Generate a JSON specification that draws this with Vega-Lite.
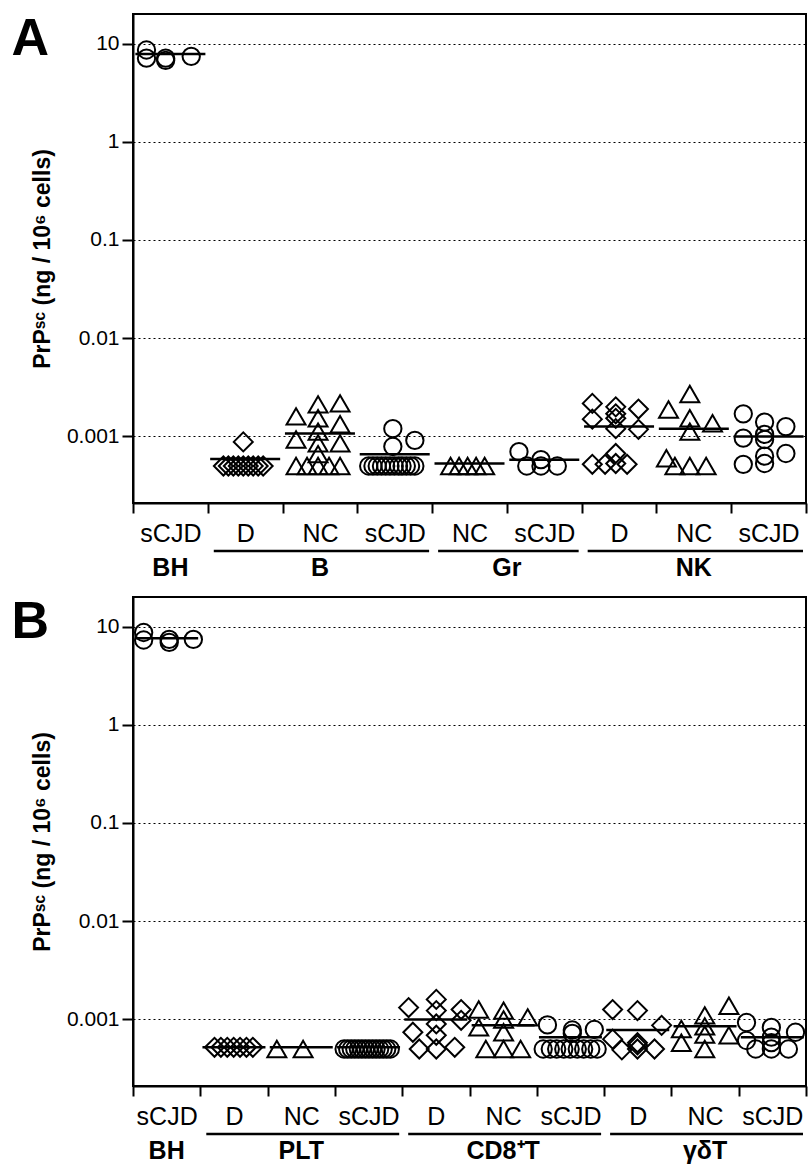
{
  "$schema": "https://vega.github.io/schema/vega-lite/v6.json",
  "padding": {"left": 10, "top": 12, "right": 0, "bottom": 0},
  "autosize": {"type": "pad"},
  "background": "white",
  "spacing": 0,
  "config": {
    "font": "Liberation Sans",
    "axis": {"labelColor": "black", "titleColor": "black", "domainColor": "black", "tickColor": "black"}
  },
  "resolve": {"scale": {"x": "independent", "y": "independent"}},
  "datasets": {
    "ptsA": [
      {"c": "BH|sCJD", "t": "sCJD", "v": 8.6, "o": -0.31},
      {"c": "BH|sCJD", "t": "sCJD", "v": 7.1, "o": -0.31},
      {"c": "BH|sCJD", "t": "sCJD", "v": 7.1, "o": -0.04},
      {"c": "BH|sCJD", "t": "sCJD", "v": 6.75, "o": -0.04},
      {"c": "BH|sCJD", "t": "sCJD", "v": 7.4, "o": 0.32},
      {"c": "B|D", "t": "D", "v": 0.0005, "o": -0.28},
      {"c": "B|D", "t": "D", "v": 0.0005, "o": -0.21},
      {"c": "B|D", "t": "D", "v": 0.0005, "o": -0.14},
      {"c": "B|D", "t": "D", "v": 0.0005, "o": -0.07},
      {"c": "B|D", "t": "D", "v": 0.0005, "o": 0},
      {"c": "B|D", "t": "D", "v": 0.0005, "o": 0.07},
      {"c": "B|D", "t": "D", "v": 0.0005, "o": 0.14},
      {"c": "B|D", "t": "D", "v": 0.0005, "o": 0.21},
      {"c": "B|D", "t": "D", "v": 0.0005, "o": 0.28},
      {"c": "B|D", "t": "D", "v": 0.00088, "o": 0},
      {"c": "B|NC", "t": "NC", "v": 0.0016, "o": -0.31},
      {"c": "B|NC", "t": "NC", "v": 0.00212, "o": 0},
      {"c": "B|NC", "t": "NC", "v": 0.00217, "o": 0.31},
      {"c": "B|NC", "t": "NC", "v": 0.00153, "o": 0},
      {"c": "B|NC", "t": "NC", "v": 0.00093, "o": -0.31},
      {"c": "B|NC", "t": "NC", "v": 0.00112, "o": 0},
      {"c": "B|NC", "t": "NC", "v": 0.00133, "o": 0.31},
      {"c": "B|NC", "t": "NC", "v": 0.00085, "o": 0},
      {"c": "B|NC", "t": "NC", "v": 0.00085, "o": 0.31},
      {"c": "B|NC", "t": "NC", "v": 0.00066, "o": 0},
      {"c": "B|NC", "t": "NC", "v": 0.0005, "o": -0.31},
      {"c": "B|NC", "t": "NC", "v": 0.0005, "o": -0.155},
      {"c": "B|NC", "t": "NC", "v": 0.0005, "o": 0},
      {"c": "B|NC", "t": "NC", "v": 0.0005, "o": 0.155},
      {"c": "B|NC", "t": "NC", "v": 0.0005, "o": 0.31},
      {"c": "B|sCJD", "t": "sCJD", "v": 0.0012, "o": 0},
      {"c": "B|sCJD", "t": "sCJD", "v": 0.00079, "o": 0},
      {"c": "B|sCJD", "t": "sCJD", "v": 0.00091, "o": 0.31},
      {"c": "B|sCJD", "t": "sCJD", "v": 0.0005, "o": -0.34},
      {"c": "B|sCJD", "t": "sCJD", "v": 0.0005, "o": -0.28},
      {"c": "B|sCJD", "t": "sCJD", "v": 0.0005, "o": -0.22},
      {"c": "B|sCJD", "t": "sCJD", "v": 0.0005, "o": -0.16},
      {"c": "B|sCJD", "t": "sCJD", "v": 0.0005, "o": -0.1},
      {"c": "B|sCJD", "t": "sCJD", "v": 0.0005, "o": -0.04},
      {"c": "B|sCJD", "t": "sCJD", "v": 0.0005, "o": 0.02},
      {"c": "B|sCJD", "t": "sCJD", "v": 0.0005, "o": 0.08},
      {"c": "B|sCJD", "t": "sCJD", "v": 0.0005, "o": 0.13},
      {"c": "B|sCJD", "t": "sCJD", "v": 0.0005, "o": 0.19},
      {"c": "B|sCJD", "t": "sCJD", "v": 0.0005, "o": 0.25},
      {"c": "B|sCJD", "t": "sCJD", "v": 0.0005, "o": 0.31},
      {"c": "Gr|NC", "t": "NC", "v": 0.0005, "o": -0.24},
      {"c": "Gr|NC", "t": "NC", "v": 0.0005, "o": -0.12},
      {"c": "Gr|NC", "t": "NC", "v": 0.0005, "o": 0},
      {"c": "Gr|NC", "t": "NC", "v": 0.0005, "o": 0.12},
      {"c": "Gr|NC", "t": "NC", "v": 0.0005, "o": 0.24},
      {"c": "Gr|sCJD", "t": "sCJD", "v": 0.0007, "o": -0.33},
      {"c": "Gr|sCJD", "t": "sCJD", "v": 0.0005, "o": -0.22},
      {"c": "Gr|sCJD", "t": "sCJD", "v": 0.00058, "o": -0.02},
      {"c": "Gr|sCJD", "t": "sCJD", "v": 0.0005, "o": -0.02},
      {"c": "Gr|sCJD", "t": "sCJD", "v": 0.0005, "o": 0.21},
      {"c": "NK|D", "t": "D", "v": 0.00217, "o": -0.35},
      {"c": "NK|D", "t": "D", "v": 0.0015, "o": -0.35},
      {"c": "NK|D", "t": "D", "v": 0.002, "o": -0.02},
      {"c": "NK|D", "t": "D", "v": 0.0017, "o": -0.02},
      {"c": "NK|D", "t": "D", "v": 0.00153, "o": -0.02},
      {"c": "NK|D", "t": "D", "v": 0.0012, "o": -0.02},
      {"c": "NK|D", "t": "D", "v": 0.0019, "o": 0.3},
      {"c": "NK|D", "t": "D", "v": 0.00118, "o": 0.3},
      {"c": "NK|D", "t": "D", "v": 0.00052, "o": -0.35},
      {"c": "NK|D", "t": "D", "v": 0.00052, "o": -0.17},
      {"c": "NK|D", "t": "D", "v": 0.00067, "o": -0.02},
      {"c": "NK|D", "t": "D", "v": 0.00053, "o": -0.02},
      {"c": "NK|D", "t": "D", "v": 0.00052, "o": 0.14},
      {"c": "NK|NC", "t": "NC", "v": 0.00188, "o": -0.33},
      {"c": "NK|NC", "t": "NC", "v": 0.0027, "o": -0.03},
      {"c": "NK|NC", "t": "NC", "v": 0.00153, "o": -0.03},
      {"c": "NK|NC", "t": "NC", "v": 0.00112, "o": -0.03},
      {"c": "NK|NC", "t": "NC", "v": 0.00136, "o": 0.29},
      {"c": "NK|NC", "t": "NC", "v": 0.0006, "o": -0.36},
      {"c": "NK|NC", "t": "NC", "v": 0.0005, "o": -0.24},
      {"c": "NK|NC", "t": "NC", "v": 0.0005, "o": -0.03},
      {"c": "NK|NC", "t": "NC", "v": 0.0005, "o": 0.2},
      {"c": "NK|sCJD", "t": "sCJD", "v": 0.0017, "o": -0.33},
      {"c": "NK|sCJD", "t": "sCJD", "v": 0.00096, "o": -0.33},
      {"c": "NK|sCJD", "t": "sCJD", "v": 0.00052, "o": -0.33},
      {"c": "NK|sCJD", "t": "sCJD", "v": 0.0014, "o": -0.03},
      {"c": "NK|sCJD", "t": "sCJD", "v": 0.00105, "o": -0.03},
      {"c": "NK|sCJD", "t": "sCJD", "v": 0.00093, "o": -0.03},
      {"c": "NK|sCJD", "t": "sCJD", "v": 0.00063, "o": -0.03},
      {"c": "NK|sCJD", "t": "sCJD", "v": 0.00053, "o": -0.03},
      {"c": "NK|sCJD", "t": "sCJD", "v": 0.00126, "o": 0.27},
      {"c": "NK|sCJD", "t": "sCJD", "v": 0.00067, "o": 0.27}
    ],
    "medA": [
      {"c": "BH|sCJD", "v": 7.85},
      {"c": "B|D", "v": 0.00059},
      {"c": "B|NC", "v": 0.00107},
      {"c": "B|sCJD", "v": 0.00066},
      {"c": "Gr|NC", "v": 0.00053},
      {"c": "Gr|sCJD", "v": 0.00058},
      {"c": "NK|D", "v": 0.00126},
      {"c": "NK|NC", "v": 0.0012},
      {"c": "NK|sCJD", "v": 0.001}
    ],
    "sepA": [{"c": "B|D"}, {"c": "Gr|NC"}, {"c": "NK|D"}],
    "grpA": [
      {"g": "BH", "first": 0, "last": 1},
      {"g": "B", "first": 1, "last": 4},
      {"g": "Gr", "first": 4, "last": 6},
      {"g": "NK", "first": 6, "last": 9}
    ],
    "ptsB": [
      {"c": "BH|sCJD", "t": "sCJD", "v": 8.7, "o": -0.35},
      {"c": "BH|sCJD", "t": "sCJD", "v": 7.3, "o": -0.35},
      {"c": "BH|sCJD", "t": "sCJD", "v": 7.4, "o": 0.01},
      {"c": "BH|sCJD", "t": "sCJD", "v": 6.9, "o": 0.01},
      {"c": "BH|sCJD", "t": "sCJD", "v": 7.4, "o": 0.35},
      {"c": "PLT|D", "t": "D", "v": 0.00052, "o": -0.3},
      {"c": "PLT|D", "t": "D", "v": 0.00052, "o": -0.21},
      {"c": "PLT|D", "t": "D", "v": 0.00052, "o": -0.12},
      {"c": "PLT|D", "t": "D", "v": 0.00052, "o": -0.03},
      {"c": "PLT|D", "t": "D", "v": 0.00052, "o": 0.06},
      {"c": "PLT|D", "t": "D", "v": 0.00052, "o": 0.15},
      {"c": "PLT|D", "t": "D", "v": 0.00052, "o": 0.24},
      {"c": "PLT|NC", "t": "NC", "v": 0.0005, "o": -0.37},
      {"c": "PLT|NC", "t": "NC", "v": 0.0005, "o": 0},
      {"c": "PLT|sCJD", "t": "sCJD", "v": 0.0005, "o": -0.37},
      {"c": "PLT|sCJD", "t": "sCJD", "v": 0.0005, "o": -0.32},
      {"c": "PLT|sCJD", "t": "sCJD", "v": 0.0005, "o": -0.27},
      {"c": "PLT|sCJD", "t": "sCJD", "v": 0.0005, "o": -0.22},
      {"c": "PLT|sCJD", "t": "sCJD", "v": 0.0005, "o": -0.17},
      {"c": "PLT|sCJD", "t": "sCJD", "v": 0.0005, "o": -0.12},
      {"c": "PLT|sCJD", "t": "sCJD", "v": 0.0005, "o": -0.07},
      {"c": "PLT|sCJD", "t": "sCJD", "v": 0.0005, "o": -0.02},
      {"c": "PLT|sCJD", "t": "sCJD", "v": 0.0005, "o": 0.03},
      {"c": "PLT|sCJD", "t": "sCJD", "v": 0.0005, "o": 0.08},
      {"c": "PLT|sCJD", "t": "sCJD", "v": 0.0005, "o": 0.13},
      {"c": "PLT|sCJD", "t": "sCJD", "v": 0.0005, "o": 0.18},
      {"c": "PLT|sCJD", "t": "sCJD", "v": 0.0005, "o": 0.23},
      {"c": "PLT|sCJD", "t": "sCJD", "v": 0.0005, "o": 0.28},
      {"c": "CD8⁺T|D", "t": "D", "v": 0.00132, "o": -0.41},
      {"c": "CD8⁺T|D", "t": "D", "v": 0.0016, "o": -0.02},
      {"c": "CD8⁺T|D", "t": "D", "v": 0.00123, "o": -0.02},
      {"c": "CD8⁺T|D", "t": "D", "v": 0.00126, "o": 0.33},
      {"c": "CD8⁺T|D", "t": "D", "v": 0.00074, "o": -0.35},
      {"c": "CD8⁺T|D", "t": "D", "v": 0.0009, "o": -0.02},
      {"c": "CD8⁺T|D", "t": "D", "v": 0.00069, "o": -0.02},
      {"c": "CD8⁺T|D", "t": "D", "v": 0.00098, "o": 0.33},
      {"c": "CD8⁺T|D", "t": "D", "v": 0.0005, "o": -0.26},
      {"c": "CD8⁺T|D", "t": "D", "v": 0.0005, "o": -0.02},
      {"c": "CD8⁺T|D", "t": "D", "v": 0.00052, "o": 0.24},
      {"c": "CD8⁺T|NC", "t": "NC", "v": 0.00126, "o": -0.37},
      {"c": "CD8⁺T|NC", "t": "NC", "v": 0.00123, "o": -0.02},
      {"c": "CD8⁺T|NC", "t": "NC", "v": 0.001, "o": -0.02},
      {"c": "CD8⁺T|NC", "t": "NC", "v": 0.00105, "o": 0.32},
      {"c": "CD8⁺T|NC", "t": "NC", "v": 0.00083, "o": -0.37},
      {"c": "CD8⁺T|NC", "t": "NC", "v": 0.00074, "o": -0.02},
      {"c": "CD8⁺T|NC", "t": "NC", "v": 0.0005, "o": -0.27},
      {"c": "CD8⁺T|NC", "t": "NC", "v": 0.0005, "o": -0.02},
      {"c": "CD8⁺T|NC", "t": "NC", "v": 0.0005, "o": 0.22},
      {"c": "CD8⁺T|sCJD", "t": "sCJD", "v": 0.00088, "o": -0.35},
      {"c": "CD8⁺T|sCJD", "t": "sCJD", "v": 0.00078, "o": 0},
      {"c": "CD8⁺T|sCJD", "t": "sCJD", "v": 0.00072, "o": 0},
      {"c": "CD8⁺T|sCJD", "t": "sCJD", "v": 0.00079, "o": 0.31},
      {"c": "CD8⁺T|sCJD", "t": "sCJD", "v": 0.0005, "o": -0.41},
      {"c": "CD8⁺T|sCJD", "t": "sCJD", "v": 0.0005, "o": -0.31},
      {"c": "CD8⁺T|sCJD", "t": "sCJD", "v": 0.0005, "o": -0.22},
      {"c": "CD8⁺T|sCJD", "t": "sCJD", "v": 0.0005, "o": -0.12},
      {"c": "CD8⁺T|sCJD", "t": "sCJD", "v": 0.0005, "o": -0.03},
      {"c": "CD8⁺T|sCJD", "t": "sCJD", "v": 0.0005, "o": 0.07},
      {"c": "CD8⁺T|sCJD", "t": "sCJD", "v": 0.0005, "o": 0.16},
      {"c": "CD8⁺T|sCJD", "t": "sCJD", "v": 0.0005, "o": 0.26},
      {"c": "CD8⁺T|sCJD", "t": "sCJD", "v": 0.0005, "o": 0.35},
      {"c": "γδT|D", "t": "D", "v": 0.00126, "o": -0.38},
      {"c": "γδT|D", "t": "D", "v": 0.00123, "o": -0.03},
      {"c": "γδT|D", "t": "D", "v": 0.00087, "o": 0.31},
      {"c": "γδT|D", "t": "D", "v": 0.00063, "o": -0.38},
      {"c": "γδT|D", "t": "D", "v": 0.00049, "o": -0.25},
      {"c": "γδT|D", "t": "D", "v": 0.00058, "o": -0.03},
      {"c": "γδT|D", "t": "D", "v": 0.00055, "o": -0.03},
      {"c": "γδT|D", "t": "D", "v": 0.0005, "o": -0.03},
      {"c": "γδT|D", "t": "D", "v": 0.0005, "o": 0.21},
      {"c": "γδT|NC", "t": "NC", "v": 0.00138, "o": 0.31},
      {"c": "γδT|NC", "t": "NC", "v": 0.0011, "o": -0.03},
      {"c": "γδT|NC", "t": "NC", "v": 0.00085, "o": -0.03},
      {"c": "γδT|NC", "t": "NC", "v": 0.0007, "o": -0.03},
      {"c": "γδT|NC", "t": "NC", "v": 0.0005, "o": -0.03},
      {"c": "γδT|NC", "t": "NC", "v": 0.0008, "o": -0.36},
      {"c": "γδT|NC", "t": "NC", "v": 0.00058, "o": -0.36},
      {"c": "γδT|NC", "t": "NC", "v": 0.00069, "o": 0.31},
      {"c": "γδT|sCJD", "t": "sCJD", "v": 0.00093, "o": -0.39},
      {"c": "γδT|sCJD", "t": "sCJD", "v": 0.00061, "o": -0.39},
      {"c": "γδT|sCJD", "t": "sCJD", "v": 0.0005, "o": -0.26},
      {"c": "γδT|sCJD", "t": "sCJD", "v": 0.00083, "o": -0.04},
      {"c": "γδT|sCJD", "t": "sCJD", "v": 0.00066, "o": -0.04},
      {"c": "γδT|sCJD", "t": "sCJD", "v": 0.00058, "o": -0.04},
      {"c": "γδT|sCJD", "t": "sCJD", "v": 0.0005, "o": -0.04},
      {"c": "γδT|sCJD", "t": "sCJD", "v": 0.0005, "o": 0.2},
      {"c": "γδT|sCJD", "t": "sCJD", "v": 0.00074, "o": 0.3}
    ],
    "medB": [
      {"c": "BH|sCJD", "v": 7.6},
      {"c": "PLT|D", "v": 0.00052},
      {"c": "PLT|NC", "v": 0.00052},
      {"c": "PLT|sCJD", "v": 0.00052},
      {"c": "CD8⁺T|D", "v": 0.001},
      {"c": "CD8⁺T|NC", "v": 0.00087},
      {"c": "CD8⁺T|sCJD", "v": 0.00066},
      {"c": "γδT|D", "v": 0.00078},
      {"c": "γδT|NC", "v": 0.00085},
      {"c": "γδT|sCJD", "v": 0.00066}
    ],
    "sepB": [{"c": "PLT|D"}, {"c": "CD8⁺T|D"}, {"c": "γδT|D"}],
    "grpB": [
      {"g": "BH", "first": 0, "last": 1},
      {"g": "PLT", "first": 1, "last": 4},
      {"g": "CD8⁺T", "first": 4, "last": 7},
      {"g": "γδT", "first": 7, "last": 10}
    ]
  },
  "vconcat": [
    {
      "width": 673,
      "height": 489,
      "title": {"text": "A", "anchor": "start", "frame": "bounds", "offset": -52, "dx": -20, "fontSize": 52, "fontWeight": "bold", "color": "black"},
      "view": {"stroke": "black", "strokeWidth": 2},
      "encoding": {
        "x": {
          "field": "c", "type": "nominal",
          "scale": {"domain": ["BH|sCJD", "B|D", "B|NC", "B|sCJD", "Gr|NC", "Gr|sCJD", "NK|D", "NK|NC", "NK|sCJD"], "paddingInner": 0, "paddingOuter": 0},
          "axis": {
            "title": null, "labelExpr": "split(datum.value, '|')[1]", "labelAngle": 0, "labelFontSize": 25, "labelPadding": 8,
            "tickBand": "extent", "tickSize": 10, "tickWidth": 2, "domainWidth": 2, "grid": false
          }
        },
        "y": {
          "field": "v", "type": "quantitative",
          "scale": {"type": "log", "domain": [0.00021, 20], "nice": false},
          "axis": {
            "title": "PrPˢᶜ (ng / 10⁶ cells)", "titleFontSize": 23, "titleFontWeight": "bold", "titlePadding": 12,
            "values": [0.001, 0.01, 0.1, 1, 10], "labelFontSize": 21, "labelPadding": 3, "tickSize": 11, "tickWidth": 2, "domainWidth": 2,
            "grid": true, "gridColor": "black", "gridDash": [2, 3], "gridWidth": 1, "gridOpacity": 1
          }
        }
      },
      "layer": [
        {
          "data": {"name": "sepA"},
          "mark": {"type": "rule", "strokeDash": [2, 2], "strokeWidth": 2, "color": "black"},
          "encoding": {"x": {"field": "c", "type": "nominal", "bandPosition": 0}, "y": {"datum": 20}, "y2": {"datum": 0.00021}}
        },
        {
          "data": {"name": "ptsA"},
          "transform": [{"filter": "datum.t == 'D'"}],
          "mark": {"type": "point", "shape": "diamond", "size": 360, "filled": false, "strokeWidth": 2, "color": "black", "opacity": 1},
          "encoding": {"xOffset": {"field": "o", "type": "quantitative", "scale": {"domain": [-0.5, 0.5], "range": [0, 71]}}}
        },
        {
          "data": {"name": "ptsA"},
          "transform": [{"filter": "datum.t == 'NC'"}],
          "mark": {"type": "point", "shape": "triangle-up", "size": 360, "filled": false, "strokeWidth": 2, "color": "black", "opacity": 1},
          "encoding": {"xOffset": {"field": "o", "type": "quantitative", "scale": {"domain": [-0.5, 0.5], "range": [0, 71]}}}
        },
        {
          "data": {"name": "ptsA"},
          "transform": [{"filter": "datum.t == 'sCJD'"}],
          "mark": {"type": "point", "shape": "circle", "size": 300, "filled": false, "strokeWidth": 2, "color": "black", "opacity": 1},
          "encoding": {"xOffset": {"field": "o", "type": "quantitative", "scale": {"domain": [-0.5, 0.5], "range": [0, 71]}}}
        },
        {
          "data": {"name": "medA"},
          "mark": {"type": "tick", "thickness": 2.5, "size": 70, "color": "black", "opacity": 1}
        }
      ]
    },
    {
      "width": 673,
      "height": 48,
      "data": {"name": "grpA"},
      "view": {"stroke": null},
      "encoding": {"y": {"datum": 1, "type": "quantitative", "scale": {"domain": [0, 1]}, "axis": null}},
      "layer": [
        {
          "transform": [{"filter": "datum.g != 'BH'"}],
          "mark": {"type": "rule", "strokeWidth": 2.5, "color": "black", "xOffset": 6, "x2Offset": -3, "yOffset": 4},
          "encoding": {"x": {"field": "first", "type": "quantitative", "scale": {"domain": [0, 9]}, "axis": null}, "x2": {"field": "last"}}
        },
        {
          "transform": [{"calculate": "(datum.first + datum.last) / 2", "as": "mid"}],
          "mark": {"type": "text", "fontSize": 25, "fontWeight": "bold", "baseline": "top", "dy": 9, "color": "black"},
          "encoding": {"x": {"field": "mid", "type": "quantitative", "scale": {"domain": [0, 9]}, "axis": null}, "text": {"field": "g"}}
        }
      ]
    },
    {
      "width": 673,
      "height": 489,
      "title": {"text": "B", "anchor": "start", "frame": "bounds", "offset": -52, "dx": -20, "fontSize": 52, "fontWeight": "bold", "color": "black"},
      "view": {"stroke": "black", "strokeWidth": 2},
      "encoding": {
        "x": {
          "field": "c", "type": "nominal",
          "scale": {"domain": ["BH|sCJD", "PLT|D", "PLT|NC", "PLT|sCJD", "CD8⁺T|D", "CD8⁺T|NC", "CD8⁺T|sCJD", "γδT|D", "γδT|NC", "γδT|sCJD"], "paddingInner": 0, "paddingOuter": 0},
          "axis": {
            "title": null, "labelExpr": "split(datum.value, '|')[1]", "labelAngle": 0, "labelFontSize": 25, "labelPadding": 8,
            "tickBand": "extent", "tickSize": 10, "tickWidth": 2, "domainWidth": 2, "grid": false
          }
        },
        "y": {
          "field": "v", "type": "quantitative",
          "scale": {"type": "log", "domain": [0.00021, 20], "nice": false},
          "axis": {
            "title": "PrPˢᶜ (ng / 10⁶ cells)", "titleFontSize": 23, "titleFontWeight": "bold", "titlePadding": 12,
            "values": [0.001, 0.01, 0.1, 1, 10], "labelFontSize": 21, "labelPadding": 3, "tickSize": 11, "tickWidth": 2, "domainWidth": 2,
            "grid": true, "gridColor": "black", "gridDash": [2, 3], "gridWidth": 1, "gridOpacity": 1
          }
        }
      },
      "layer": [
        {
          "data": {"name": "sepB"},
          "mark": {"type": "rule", "strokeDash": [2, 2], "strokeWidth": 2, "color": "black"},
          "encoding": {"x": {"field": "c", "type": "nominal", "bandPosition": 0}, "y": {"datum": 20}, "y2": {"datum": 0.00021}}
        },
        {
          "data": {"name": "ptsB"},
          "transform": [{"filter": "datum.t == 'D'"}],
          "mark": {"type": "point", "shape": "diamond", "size": 360, "filled": false, "strokeWidth": 2, "color": "black", "opacity": 1},
          "encoding": {"xOffset": {"field": "o", "type": "quantitative", "scale": {"domain": [-0.5, 0.5], "range": [0, 71]}}}
        },
        {
          "data": {"name": "ptsB"},
          "transform": [{"filter": "datum.t == 'NC'"}],
          "mark": {"type": "point", "shape": "triangle-up", "size": 360, "filled": false, "strokeWidth": 2, "color": "black", "opacity": 1},
          "encoding": {"xOffset": {"field": "o", "type": "quantitative", "scale": {"domain": [-0.5, 0.5], "range": [0, 71]}}}
        },
        {
          "data": {"name": "ptsB"},
          "transform": [{"filter": "datum.t == 'sCJD'"}],
          "mark": {"type": "point", "shape": "circle", "size": 300, "filled": false, "strokeWidth": 2, "color": "black", "opacity": 1},
          "encoding": {"xOffset": {"field": "o", "type": "quantitative", "scale": {"domain": [-0.5, 0.5], "range": [0, 71]}}}
        },
        {
          "data": {"name": "medB"},
          "mark": {"type": "tick", "thickness": 2.5, "size": 63, "color": "black", "opacity": 1}
        }
      ]
    },
    {
      "width": 673,
      "height": 36,
      "data": {"name": "grpB"},
      "view": {"stroke": null},
      "encoding": {"y": {"datum": 1, "type": "quantitative", "scale": {"domain": [0, 1]}, "axis": null}},
      "layer": [
        {
          "transform": [{"filter": "datum.g != 'BH'"}],
          "mark": {"type": "rule", "strokeWidth": 2.5, "color": "black", "xOffset": 6, "x2Offset": -3, "yOffset": 4},
          "encoding": {"x": {"field": "first", "type": "quantitative", "scale": {"domain": [0, 10]}, "axis": null}, "x2": {"field": "last"}}
        },
        {
          "transform": [{"calculate": "(datum.first + datum.last) / 2", "as": "mid"}],
          "mark": {"type": "text", "fontSize": 25, "fontWeight": "bold", "baseline": "top", "dy": 9, "color": "black"},
          "encoding": {"x": {"field": "mid", "type": "quantitative", "scale": {"domain": [0, 10]}, "axis": null}, "text": {"field": "g"}}
        }
      ]
    }
  ]
}
